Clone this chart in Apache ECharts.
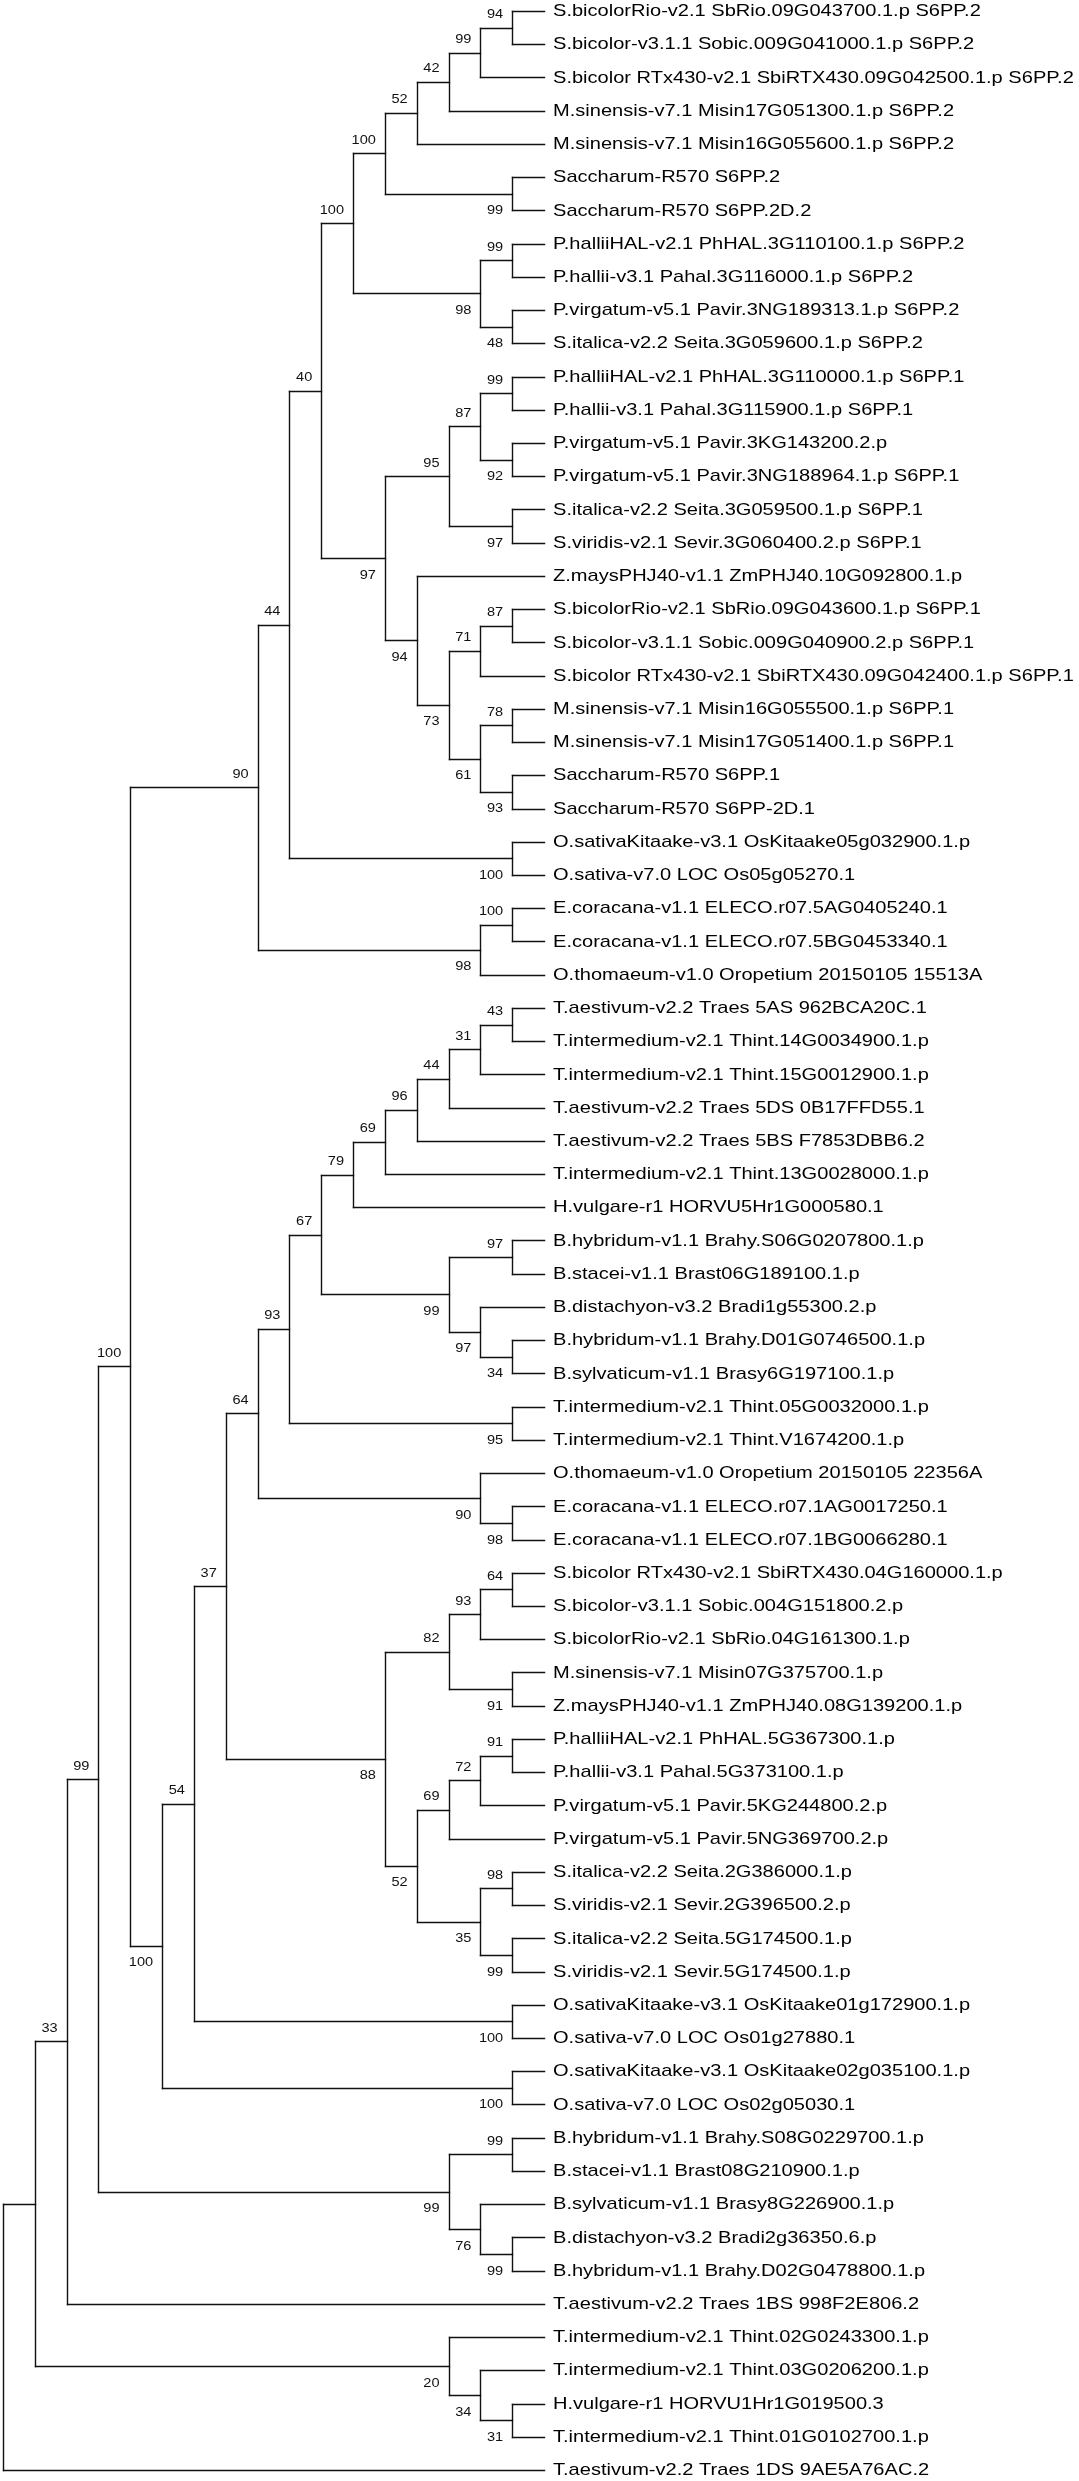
<!DOCTYPE html>
<html><head><meta charset="utf-8">
<script src="https://cdn.jsdelivr.net/npm/echarts@6/dist/echarts.min.js"></script>
<style>html,body{margin:0;padding:0;background:#fff}#c{width:1079px;height:2481px}</style>
</head><body><div id="c"></div>
<script>
// Leaf labels, top to bottom
const leafNames = [
"S.bicolorRio-v2.1 SbRio.09G043700.1.p S6PP.2",
"S.bicolor-v3.1.1 Sobic.009G041000.1.p S6PP.2",
"S.bicolor RTx430-v2.1 SbiRTX430.09G042500.1.p S6PP.2",
"M.sinensis-v7.1 Misin17G051300.1.p S6PP.2",
"M.sinensis-v7.1 Misin16G055600.1.p S6PP.2",
"Saccharum-R570 S6PP.2",
"Saccharum-R570 S6PP.2D.2",
"P.halliiHAL-v2.1 PhHAL.3G110100.1.p S6PP.2",
"P.hallii-v3.1 Pahal.3G116000.1.p S6PP.2",
"P.virgatum-v5.1 Pavir.3NG189313.1.p S6PP.2",
"S.italica-v2.2 Seita.3G059600.1.p S6PP.2",
"P.halliiHAL-v2.1 PhHAL.3G110000.1.p S6PP.1",
"P.hallii-v3.1 Pahal.3G115900.1.p S6PP.1",
"P.virgatum-v5.1 Pavir.3KG143200.2.p",
"P.virgatum-v5.1 Pavir.3NG188964.1.p S6PP.1",
"S.italica-v2.2 Seita.3G059500.1.p S6PP.1",
"S.viridis-v2.1 Sevir.3G060400.2.p S6PP.1",
"Z.maysPHJ40-v1.1 ZmPHJ40.10G092800.1.p",
"S.bicolorRio-v2.1 SbRio.09G043600.1.p S6PP.1",
"S.bicolor-v3.1.1 Sobic.009G040900.2.p S6PP.1",
"S.bicolor RTx430-v2.1 SbiRTX430.09G042400.1.p S6PP.1",
"M.sinensis-v7.1 Misin16G055500.1.p S6PP.1",
"M.sinensis-v7.1 Misin17G051400.1.p S6PP.1",
"Saccharum-R570 S6PP.1",
"Saccharum-R570 S6PP-2D.1",
"O.sativaKitaake-v3.1 OsKitaake05g032900.1.p",
"O.sativa-v7.0 LOC Os05g05270.1",
"E.coracana-v1.1 ELECO.r07.5AG0405240.1",
"E.coracana-v1.1 ELECO.r07.5BG0453340.1",
"O.thomaeum-v1.0 Oropetium 20150105 15513A",
"T.aestivum-v2.2 Traes 5AS 962BCA20C.1",
"T.intermedium-v2.1 Thint.14G0034900.1.p",
"T.intermedium-v2.1 Thint.15G0012900.1.p",
"T.aestivum-v2.2 Traes 5DS 0B17FFD55.1",
"T.aestivum-v2.2 Traes 5BS F7853DBB6.2",
"T.intermedium-v2.1 Thint.13G0028000.1.p",
"H.vulgare-r1 HORVU5Hr1G000580.1",
"B.hybridum-v1.1 Brahy.S06G0207800.1.p",
"B.stacei-v1.1 Brast06G189100.1.p",
"B.distachyon-v3.2 Bradi1g55300.2.p",
"B.hybridum-v1.1 Brahy.D01G0746500.1.p",
"B.sylvaticum-v1.1 Brasy6G197100.1.p",
"T.intermedium-v2.1 Thint.05G0032000.1.p",
"T.intermedium-v2.1 Thint.V1674200.1.p",
"O.thomaeum-v1.0 Oropetium 20150105 22356A",
"E.coracana-v1.1 ELECO.r07.1AG0017250.1",
"E.coracana-v1.1 ELECO.r07.1BG0066280.1",
"S.bicolor RTx430-v2.1 SbiRTX430.04G160000.1.p",
"S.bicolor-v3.1.1 Sobic.004G151800.2.p",
"S.bicolorRio-v2.1 SbRio.04G161300.1.p",
"M.sinensis-v7.1 Misin07G375700.1.p",
"Z.maysPHJ40-v1.1 ZmPHJ40.08G139200.1.p",
"P.halliiHAL-v2.1 PhHAL.5G367300.1.p",
"P.hallii-v3.1 Pahal.5G373100.1.p",
"P.virgatum-v5.1 Pavir.5KG244800.2.p",
"P.virgatum-v5.1 Pavir.5NG369700.2.p",
"S.italica-v2.2 Seita.2G386000.1.p",
"S.viridis-v2.1 Sevir.2G396500.2.p",
"S.italica-v2.2 Seita.5G174500.1.p",
"S.viridis-v2.1 Sevir.5G174500.1.p",
"O.sativaKitaake-v3.1 OsKitaake01g172900.1.p",
"O.sativa-v7.0 LOC Os01g27880.1",
"O.sativaKitaake-v3.1 OsKitaake02g035100.1.p",
"O.sativa-v7.0 LOC Os02g05030.1",
"B.hybridum-v1.1 Brahy.S08G0229700.1.p",
"B.stacei-v1.1 Brast08G210900.1.p",
"B.sylvaticum-v1.1 Brasy8G226900.1.p",
"B.distachyon-v3.2 Bradi2g36350.6.p",
"B.hybridum-v1.1 Brahy.D02G0478800.1.p",
"T.aestivum-v2.2 Traes 1BS 998F2E806.2",
"T.intermedium-v2.1 Thint.02G0243300.1.p",
"T.intermedium-v2.1 Thint.03G0206200.1.p",
"H.vulgare-r1 HORVU1Hr1G019500.3",
"T.intermedium-v2.1 Thint.01G0102700.1.p",
"T.aestivum-v2.2 Traes 1DS 9AE5A76AC.2"
];

// Topology (Newick, leaves by index, internal labels = bootstrap support)
const cladeS6PP2 = "((((((0,1)94,2)99,3)42,4)52,(5,6)99)100,((7,8)99,(9,10)48)98)100";
const cladeS6PP1 = "((((11,12)99,(13,14)92)87,(15,16)97)95,(17,(((18,19)87,20)71,((21,22)78,(23,24)93)61)73)94)97";
const cladeChr5 = "(((" + cladeS6PP2 + "," + cladeS6PP1 + ")40,(25,26)100)44,((27,28)100,29)98)90";
const cladeTriticeae = "((((((30,31)43,32)31,33)44,34)96,35)69,36)79";
const cladeBrachy1 = "((37,38)97,(39,(40,41)34)97)99";
const cladePanicoid = "((((47,48)64,49)93,(50,51)91)82,((((52,53)91,54)72,55)69,((56,57)98,(58,59)99)35)52)88";
const cladeChr1 = "((((((" + cladeTriticeae + "," + cladeBrachy1 + ")67,(42,43)95)93,(44,(45,46)98)90)64," + cladePanicoid + ")37,(60,61)100)54,(62,63)100)100";
const cladeBrachy2 = "((64,65)99,(66,(67,68)99)76)99";
const cladeThint = "(70,(71,(72,73)31)34)20";
const treeNewick = "(((((" + cladeChr5 + "," + cladeChr1 + ")100," + cladeBrachy2 + ")99,69)33," + cladeThint + "),74)";

function parseNewick(s) {
  let i = 0;
  function num() { let t = ''; while (i < s.length && /[0-9]/.test(s[i])) t += s[i++]; return t; }
  function node() {
    if (s[i] === '(') {
      i++;
      const ch = [node()];
      while (s[i] === ',') { i++; ch.push(node()); }
      i++; // ')'
      const lab = num();
      return { children: ch, support: lab === '' ? null : +lab };
    }
    return { leaf: +num() };
  }
  return node();
}

const root = parseNewick(treeNewick);
function layout(n) {
  if (n.children === undefined) { n.y = n.leaf; n.h = 0; return; }
  n.children.forEach(layout);
  n.y = (n.children[0].y + n.children[n.children.length - 1].y) / 2;
  n.h = 1 + Math.max(...n.children.map(c => c.h));
}
layout(root);

const segs = [];      // [x1, y1, x2, y2] in (depth, leaf-row) units
const supports = [];  // [depth, row, value, side]
function collect(n, parent, pos) {
  if (parent) segs.push([parent.h, n.y, n.h, n.y]);
  if (n.children) {
    segs.push([n.h, n.children[0].y, n.h, n.children[n.children.length - 1].y]);
    n.children.forEach((c, k) => collect(c, n, k));
    if (parent && n.support !== null) supports.push([n.h, n.y, n.support, pos === 0 ? 0 : 1]);
  }
}
collect(root, null, 0);
const leafData = leafNames.map((nm, i) => [0, i]);

const chart = echarts.init(document.getElementById('c'), null, { renderer: 'canvas' });
const snap = v => Math.round(v) + 0.5;
chart.setOption({
  animation: false,
  backgroundColor: '#ffffff',
  grid: { left: 3, width: 541, top: 11, height: 2459 },
  xAxis: { type: 'value', min: 0, max: root.h, inverse: true, show: false },
  yAxis: { type: 'value', min: 0, max: leafNames.length - 1, inverse: true, show: false },
  series: [
    {
      type: 'custom', clip: false, data: segs,
      encode: { x: [0, 2], y: [1, 3] },
      renderItem: function (params, api) {
        const a = api.coord([api.value(0), api.value(1)]);
        const b = api.coord([api.value(2), api.value(3)]);
        return { type: 'line', shape: { x1: snap(a[0]), y1: snap(a[1]), x2: snap(b[0]), y2: snap(b[1]) },
          style: { stroke: '#111', lineWidth: 1.4, lineCap: 'square' } };
      }
    },
    {
      type: 'custom', clip: false, data: leafData,
      encode: { x: 0, y: 1 },
      renderItem: function (params, api) {
        const p = api.coord([api.value(0), api.value(1)]);
        return { type: 'text', x: p[0] + 9, y: p[1] + 0.5, scaleX: 1.18,
          style: { text: leafNames[params.dataIndex], fill: '#000', fontSize: 17, fontFamily: 'Liberation Sans',
            align: 'left', verticalAlign: 'middle' } };
      }
    },
    {
      type: 'custom', clip: false, data: supports.map(s => [s[0], s[1]]),
      encode: { x: 0, y: 1 },
      renderItem: function (params, api) {
        const s = supports[params.dataIndex];
        const p = api.coord([api.value(0), api.value(1)]);
        return { type: 'text', x: p[0] - 9, y: p[1] + (s[3] === 0 ? -13 : 17), scaleX: 1.12,
          style: { text: String(s[2]), fill: '#111', fontSize: 13, fontFamily: 'Liberation Sans',
            align: 'right', verticalAlign: 'middle' } };
      }
    }
  ]
});
</script>
</body></html>
